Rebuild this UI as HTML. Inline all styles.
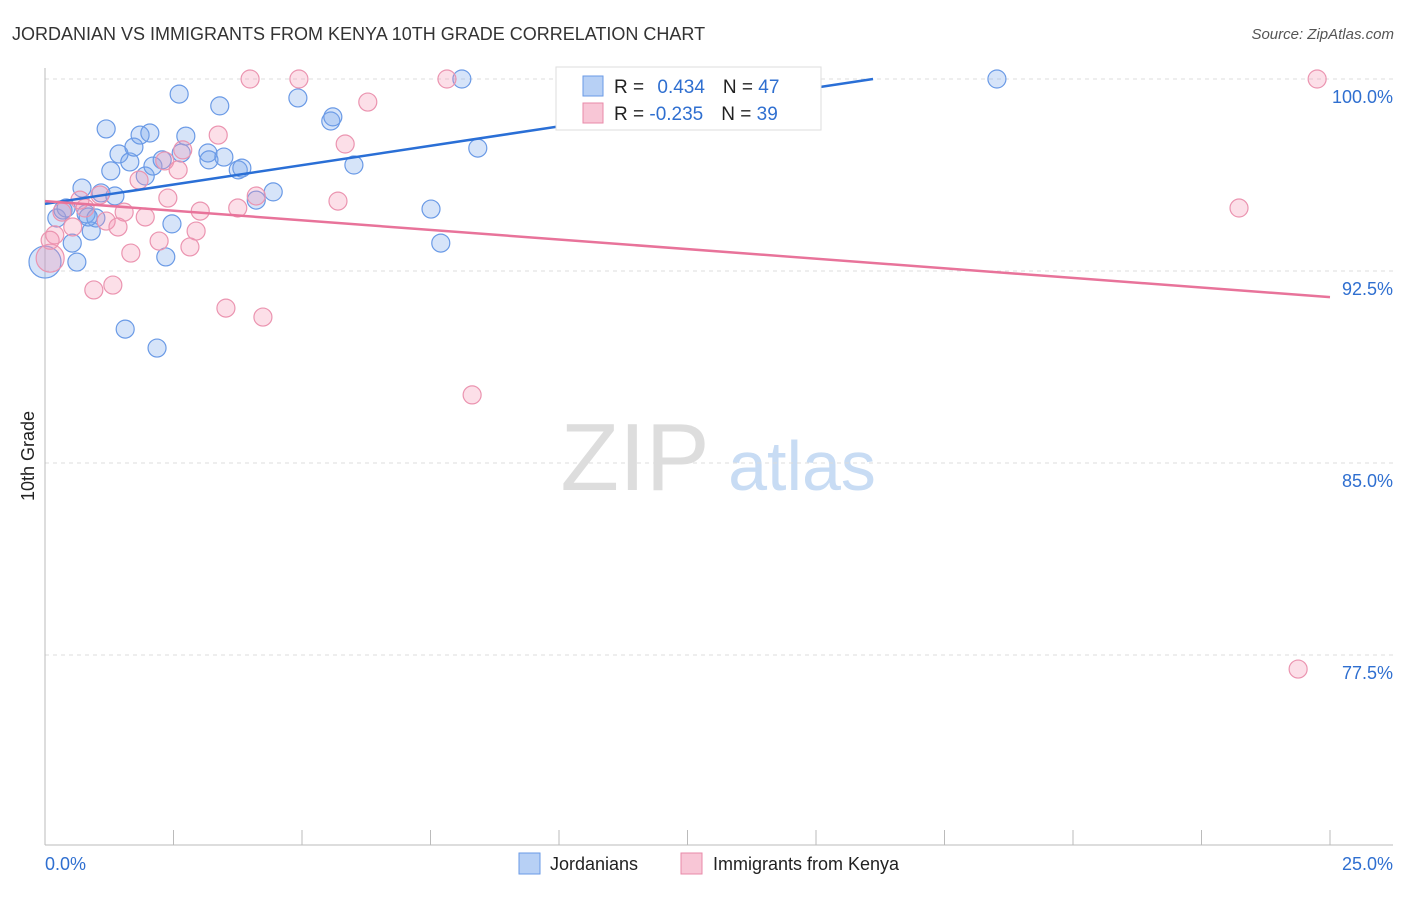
<!DOCTYPE html>
<html><head><meta charset="utf-8"><style>
body{margin:0;background:#fff;font-family:"Liberation Sans",sans-serif}
svg text{font-family:"Liberation Sans",sans-serif}
</style></head><body>
<svg id="c" width="1406" height="892">
<text x="12" y="40" font-size="18" fill="#333">JORDANIAN VS IMMIGRANTS FROM KENYA 10TH GRADE CORRELATION CHART</text>
<text x="1394" y="39" font-size="15" fill="#555" font-style="italic" text-anchor="end">Source: ZipAtlas.com</text>
<text x="635" y="490" font-size="96" fill="#ddd" font-family="Liberation Serif" text-anchor="middle">ZIP</text>
<text x="802" y="490" font-size="70" fill="#c8dcf4" text-anchor="middle">atlas</text>
<text transform="translate(34,456) rotate(-90)" font-size="18" fill="#222" text-anchor="middle">10th Grade</text>
<g id="grid"></g><g id="pts"></g><g id="lines"></g>
<g>
<rect x="556" y="67" width="265" height="63" fill="#fff" stroke="#ddd"/>
<rect x="583" y="76" width="20" height="20" fill="#b7d0f5" stroke="#6a9ae6"/>
<rect x="583" y="103" width="20" height="20" fill="#f8c6d6" stroke="#e88aa8"/>
<text x="614" y="93" font-size="19" fill="#222">R = <tspan fill="#2f6fd0" dx="8">0.434</tspan><tspan dx="18" fill="#222">N = </tspan><tspan fill="#2f6fd0">47</tspan></text>
<text x="614" y="120" font-size="19" fill="#222">R = <tspan fill="#2f6fd0">-0.235</tspan><tspan dx="18" fill="#222">N = </tspan><tspan fill="#2f6fd0">39</tspan></text>
</g>
<rect x="519" y="853" width="21" height="21" fill="#b7d0f5" stroke="#6a9ae6"/>
<text x="550" y="870" font-size="18" fill="#222">Jordanians</text>
<rect x="681" y="853" width="21" height="21" fill="#f8c6d6" stroke="#e88aa8"/>
<text x="713" y="870" font-size="18" fill="#222">Immigrants from Kenya</text>
</svg>
<script>
const blueX=[0.23,0.35,0.53,0.62,0.72,0.80,0.90,0.99,1.09,1.19,1.28,1.36,1.44,1.56,1.65,1.73,1.85,1.95,2.04,2.10,2.18,2.28,2.35,2.47,2.61,2.65,2.74,3.17,3.19,3.40,3.48,3.76,3.83,4.11,4.44,4.92,5.56,5.60,6.01,7.51,7.70,8.11,8.42,18.52,0,0.41,0.84];
const blueY=[94.57,94.88,93.59,92.85,95.74,94.73,94.06,94.57,95.55,98.05,96.41,95.43,97.07,90.23,96.76,97.34,97.81,96.21,97.89,96.60,89.49,96.84,93.05,94.34,99.41,97.11,97.77,97.11,96.84,98.95,96.95,96.45,96.52,95.27,95.59,99.26,98.36,98.52,96.64,94.92,93.59,100,97.30,100,92.85,94.96,94.61];
const pinkX=[3.99,4.94,7.82,24.75,6.28,3.37,5.84,2.68,2.33,2.59,1.83,4.11,2.39,5.70,23.23,3.75,3.02,1.54,1.95,1.19,1.42,0.54,2.94,2.22,2.82,1.67,0.19,0.95,1.32,3.52,4.24,8.31,24.38,0.1,0.33,0.78,1.07,0.68,0.1];
const pinkY=[100,100,100,100,99.1,97.81,97.46,97.23,96.8,96.45,96.05,95.43,95.35,95.23,94.96,94.96,94.84,94.8,94.61,94.45,94.22,94.22,94.06,93.67,93.44,93.2,93.91,91.76,91.95,91.05,90.70,87.66,76.95,93.0,94.8,94.96,95.47,95.27,93.7];
const yTicks=[100,92.5,85,77.5];
const yTickLabels=["100.0%","92.5%","85.0%","77.5%"];
const blueTrend=[[0,95.12],[16.11,100]];
const pinkTrend=[[0,95.23],[25,91.48]];
const X=v=>45+v/25*1285, Y=v=>79+(100-v)*25.6;
const NS="http://www.w3.org/2000/svg";
function mk(t,a,p){const e=document.createElementNS(NS,t);for(const k in a)e.setAttribute(k,a[k]);p.appendChild(e);return e;}
const g=document.getElementById('grid');
yTicks.forEach((t,i)=>{
 const l=mk('line',{x1:45,x2:1393,y1:Y(t),y2:Y(t),stroke:'#ddd','stroke-dasharray':'4 4'},g);
 
 
 const tx=mk('text',{x:1393,y:Y(t)+24,'font-size':18,fill:'#2f6fd0','text-anchor':'end'},g);
 tx.textContent=yTickLabels[i];
 
 
});
const ax=mk('line',{x1:45,x2:45,y1:68,y2:845,stroke:'#bbb'},g);


const bx=mk('line',{x1:45,x2:1393,y1:845,y2:845,stroke:'#bbb'},g);


for(let i=0;i<=10;i++){const t=mk('line',{x1:X(i*2.5),x2:X(i*2.5),y1:830,y2:845,stroke:'#bbb'},g);
 
 }
[["0.0%",45,"start"],["25.0%",1393,"end"]].forEach(d=>{const t=mk('text',{x:d[1],y:870,'font-size':18,fill:'#2f6fd0','text-anchor':d[2]},g);t.textContent=d[0];
 
 });
const p=document.getElementById('pts');
blueX.forEach((x,i)=>{const big=(x===0&&blueY[i]<93);const c=mk('circle',{cx:X(x),cy:Y(blueY[i]),r:big?16:9,fill:'rgba(120,165,235,0.3)',stroke:'#6a9ae6','stroke-width':1.2},p);
 
 });
pinkX.forEach((x,i)=>{const big=(x===0.1&&pinkY[i]===93.0);const c=mk('circle',{cx:X(x),cy:Y(pinkY[i]),r:big?14:9,fill:'rgba(245,150,180,0.3)',stroke:'#eb94b0','stroke-width':1.2},p);
 
 });
const L=document.getElementById('lines');
const b=mk('line',{x1:X(blueTrend[0][0]),y1:Y(blueTrend[0][1]),x2:X(blueTrend[1][0]),y2:Y(blueTrend[1][1]),stroke:'#2a6fd6','stroke-width':2.5},L);


const pk=mk('line',{x1:X(pinkTrend[0][0]),y1:Y(pinkTrend[0][1]),x2:X(pinkTrend[1][0]),y2:Y(pinkTrend[1][1]),stroke:'#e8739a','stroke-width':2.5},L);


</script>
</body></html>
